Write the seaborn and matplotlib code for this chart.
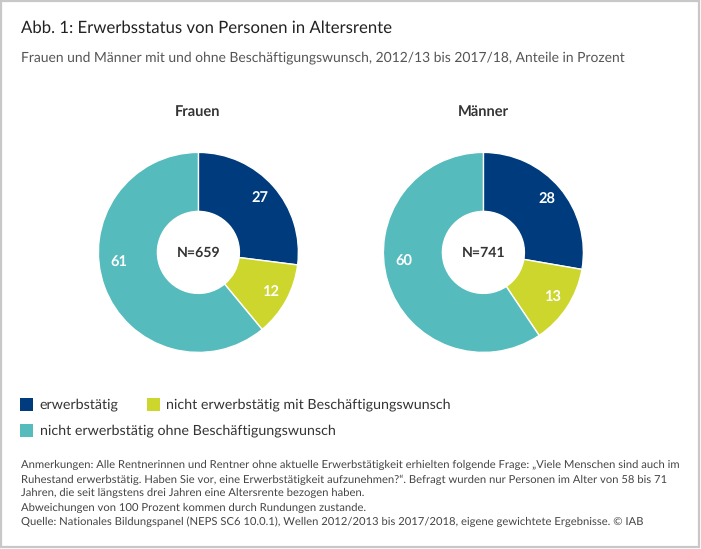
import matplotlib
matplotlib.use("Agg")
import matplotlib.pyplot as plt
from matplotlib.patches import Rectangle
import seaborn as sns

sns.set_theme(style="white")
plt.rcParams['font.family'] = ['Lato', 'Noto Sans', 'DejaVu Sans']
plt.rcParams['text.hinting'] = 'no_hinting'

panels = ["Frauen", "Männer"]
categories = ["erwerbstätig", "nicht erwerbstätig mit Beschäftigungswunsch",
              "nicht erwerbstätig ohne Beschäftigungswunsch"]
frauen = [27, 12, 61]
maenner = [28, 13, 60]
n_labels = ["N=659", "N=741"]
title = "Abb. 1: Erwerbsstatus von Personen in Altersrente"
subtitle = "Frauen und Männer mit und ohne Beschäftigungswunsch, 2012/13 bis 2017/18, Anteile in Prozent"
notes = [
    "Anmerkungen: Alle Rentnerinnen und Rentner ohne aktuelle Erwerbstätigkeit erhielten folgende Frage: „Viele Menschen sind auch im",
    "Ruhestand erwerbstätig. Haben Sie vor, eine Erwerbstätigkeit aufzunehmen?“. Befragt wurden nur Personen im Alter von 58 bis 71",
    "Jahren, die seit längstens drei Jahren eine Altersrente bezogen haben.",
    "Abweichungen von 100 Prozent kommen durch Rundungen zustande.",
    "Quelle: Nationales Bildungspanel (NEPS SC6 10.0.1), Wellen 2012/2013 bis 2017/2018, eigene gewichtete Ergebnisse. © IAB",
]
palette = sns.color_palette(["#003c7d", "#cdd62c", "#55bbbd"])

W, H = 701, 549
fig = plt.figure(figsize=(W / 100, H / 100), dpi=100, facecolor="white")

def X(x): return x / W
def Y(y): return 1 - y / H

fig.add_artist(Rectangle((X(1), Y(547)), 698 / W, 546 / H, transform=fig.transFigure,
                         fill=False, edgecolor="#c8c8c8", linewidth=1.6))

fig.text(X(21), Y(28), title, fontsize=12.05, color="#222222", va="center", ha="left")
fig.text(X(21), Y(58), subtitle, fontsize=9.97, color="#555555", va="center", ha="left")

centers = [198, 483]
R = 100
for cx, name, vals, nl in zip(centers, panels, [frauen, maenner], n_labels):
    ax = fig.add_axes([X(cx + 0.4 - R), Y(252.4 + R), 2 * R / W, 2 * R / H])
    _, _, auto = ax.pie(vals, colors=palette, startangle=90, counterclock=False, radius=1,
                        wedgeprops=dict(width=0.59, edgecolor="white", linewidth=1.0),
                        autopct=lambda p, v=iter(vals): f"{next(v)}", pctdistance=0.825,
                        textprops=dict(color="white", fontsize=10.5, fontweight="bold"))
    auto[2].set_position((-0.80, -0.09))
    ax.set_xlim(-1, 1)
    ax.set_ylim(-1, 1)
    ax.text(0, -0.005, nl, ha="center", va="center", fontsize=10.2, fontweight="bold", color="#333333")
    fig.text(X(cx), Y(112), name, ha="center", va="center", fontsize=10.5, fontweight="bold", color="#333333")

legend_pos = [(20, 404), (147, 404), (20, 430)]
for (lx, ly), c, lab in zip(legend_pos, palette, categories):
    fig.add_artist(Rectangle((X(lx), Y(ly + 7)), 13 / W, 13 / H, transform=fig.transFigure,
                             facecolor=c, edgecolor="none"))
    fig.text(X(lx + 19.5), Y(ly + 0.6), lab, fontsize=10.27, color="#333333", va="center", ha="left")

note_y = [465, 479.5, 493, 507.5, 522]
for y, t in zip(note_y, notes):
    fig.text(X(21), Y(y), t, fontsize=8.1, color="#444444", va="center", ha="left")

fig.savefig("out.png", dpi=100)
